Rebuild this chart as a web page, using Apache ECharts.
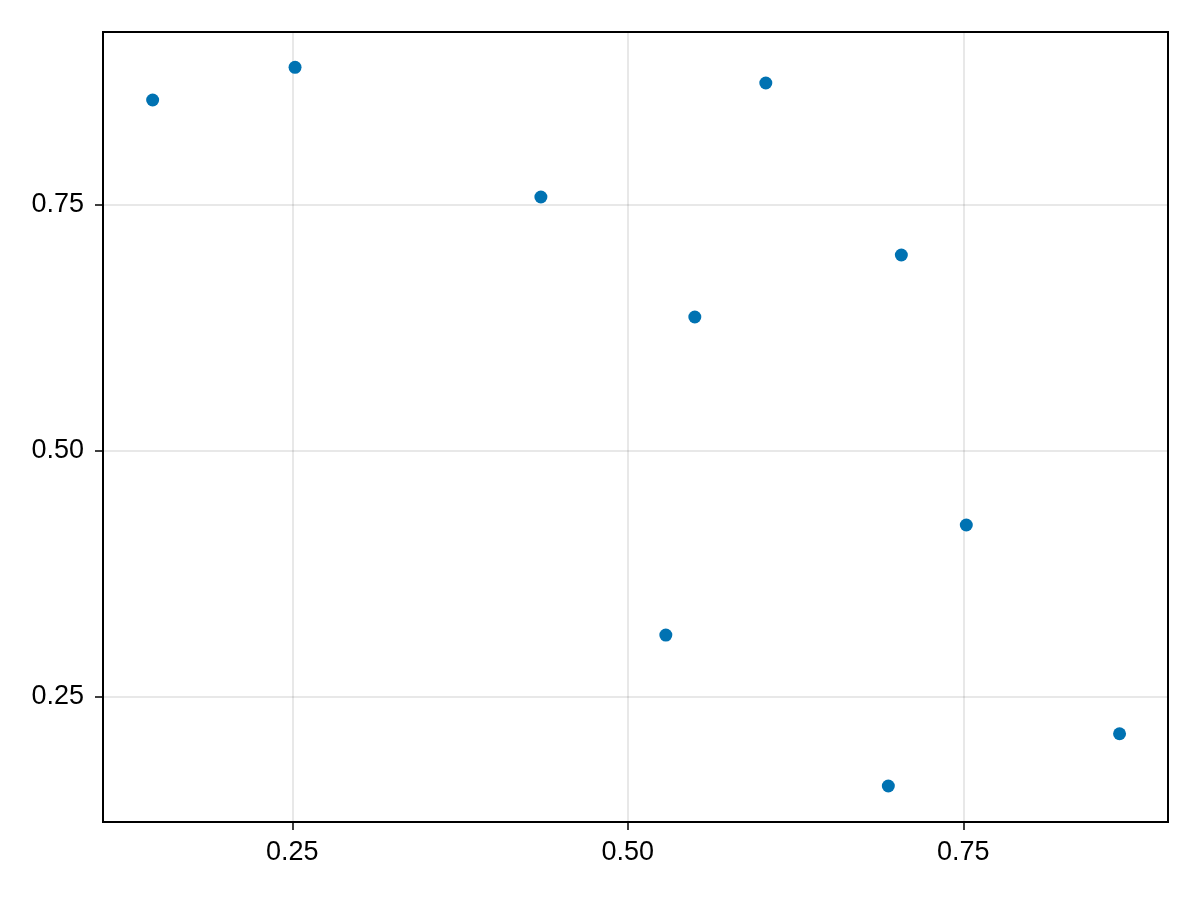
<!DOCTYPE html>
<html>
<head>
<meta charset="utf-8">
<script src="https://cdn.jsdelivr.net/npm/echarts@6/dist/echarts.min.js"></script>
<style>html,body{margin:0;padding:0;background:#fff}#c{width:1200px;height:900px}</style>
</head>
<body>
<div id="c"></div>
<script>
const xValues = [0.1459, 0.2520, 0.4352, 0.6028, 0.7038, 0.5499, 0.7522, 0.5283, 0.8664, 0.6941];
const yValues = [0.8567, 0.8899, 0.7581, 0.8740, 0.6992, 0.6362, 0.4248, 0.3130, 0.2127, 0.1596];
const xTicks = [0.25, 0.5, 0.75];
const yTicks = [0.25, 0.5, 0.75];
const xRange = [0.1089, 0.9025];
const yRange = [0.123, 0.9258];

const chart = echarts.init(document.getElementById('c'), null, {renderer: 'canvas'});
const fmt = v => v.toFixed(2);
const axisCommon = {
  axisLine: {show: false},
  axisTick: {show: true, inside: false, length: 8, lineStyle: {color: '#000', width: 1.5}},
  axisLabel: {color: '#000', fontSize: 27, fontFamily: 'Liberation Sans, Arial, sans-serif', formatter: fmt},
  splitLine: {show: true, lineStyle: {color: 'rgba(0,0,0,0.12)', width: 1.5}}
};
chart.setOption({
  animation: false,
  backgroundColor: '#fff',
  grid: {left: 103, right: 32, top: 32, bottom: 78, show: true, borderColor: '#000', borderWidth: 2, backgroundColor: 'transparent'},
  xAxis: {
    type: 'value', min: xRange[0], max: xRange[1],
    axisLine: axisCommon.axisLine,
    axisTick: Object.assign({}, axisCommon.axisTick, {customValues: xTicks}),
    axisLabel: Object.assign({}, axisCommon.axisLabel, {customValues: xTicks, margin: 17}),
    splitLine: axisCommon.splitLine
  },
  yAxis: {
    type: 'value', min: yRange[0], max: yRange[1],
    axisLine: axisCommon.axisLine,
    axisTick: Object.assign({}, axisCommon.axisTick, {customValues: yTicks}),
    axisLabel: Object.assign({}, axisCommon.axisLabel, {customValues: yTicks, margin: 19}),
    splitLine: axisCommon.splitLine
  },
  series: [{
    type: 'scatter',
    symbol: 'circle',
    symbolSize: 13,
    itemStyle: {color: '#0072B2', opacity: 1},
    data: xValues.map((x, i) => [x, yValues[i]])
  }]
});
</script>
</body>
</html>
